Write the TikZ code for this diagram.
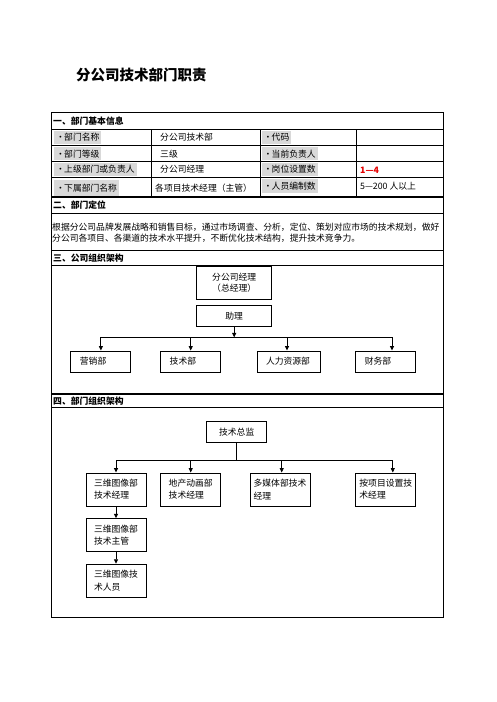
\documentclass[tikz,border=0pt]{standalone}
\usepackage{fontspec}
\setmainfont{Noto Sans CJK SC}
\usetikzlibrary{arrows.meta,positioning,calc}

\newcommand{\dotmark}{\makebox[8pt][l]{•}}

\begin{document}
\begin{tikzpicture}[
    x=1pt, y=-1pt,
    font=\fontsize{8.8}{11.5}\selectfont,
    >={Triangle[length=4.5pt,width=4pt]},
    rule/.style={line width=0.9pt},
    thickrule/.style={line width=1.8pt},
    head/.style={anchor=west, inner sep=0pt, font=\fontsize{8.8}{11}\selectfont\bfseries},
    tag/.style={anchor=west, fill=black!15, inner xsep=2pt, inner ysep=0pt, minimum height=13.5pt},
    cell/.style={anchor=west, inner sep=0pt},
    orgbox/.style={draw, line width=0.9pt, minimum width=60pt, minimum height=21pt, align=center},
    deptbox/.style={draw, line width=0.9pt, text width=42pt, inner xsep=9pt, minimum height=21pt, align=left},
    jobbox/.style={draw, line width=0.9pt, minimum width=60pt, minimum height=33pt, align=left, font=\fontsize{8.8}{12.2}\selectfont},
    link/.style={line width=0.9pt},
    linkarrow/.style={->, line width=0.9pt}
  ]
  \useasboundingbox (0,0) rectangle (496,702);

  % Title
  \node[anchor=west, inner sep=0pt, font=\fontsize{14.5}{16}\selectfont\bfseries] (title) at (76,74.5) {分公司技术部门职责};

  % Table frame and rules
  \draw[rule] (51,112.7) rectangle (443.3,617.3);
  \foreach \y in {129.3,145.7,161.7,177.3,213.3,250.7,265.7,407.3}
    \draw[rule] (51,\y) -- (443.3,\y);
  \foreach \y in {196.7,394}
    \draw[thickrule] (51,\y) -- (443.3,\y);
  \foreach \x in {151.7,260.7,356}
    \draw[rule] (\x,129.3) -- (\x,196.7);

  % Section headers
  \node[head] (h1) at (53,121) {一、部门基本信息};
  \node[head] (h2) at (53,205) {二、部门定位};
  \node[head] (h3) at (53,258.2) {三、公司组织架构};
  \node[head] (h4) at (53,400.7) {四、部门组织架构};

  % Basic information
  \node[tag] (k1) at (54,137.5) {\dotmark 部门名称};
  \node[tag] (k2) at (54,153.7) {\dotmark 部门等级};
  \node[tag] (k3) at (54,169.5) {\dotmark 上级部门或负责人};
  \node[tag, minimum height=16pt] (k4) at (54,188) {\dotmark 下属部门名称};
  \node[cell] (v1) at (160,137.5) {分公司技术部};
  \node[cell] (v2) at (160,153.7) {三级};
  \node[cell] (v3) at (160,169.5) {分公司经理};
  \node[cell] (v4) at (155,188.5) {各项目技术经理（主管）};
  \node[tag] (k5) at (261.5,137.5) {\dotmark 代码};
  \node[tag] (k6) at (261.5,153.7) {\dotmark 当前负责人};
  \node[tag] (k7) at (261.5,169.5) {\dotmark 岗位设置数};
  \node[tag] (k8) at (261.5,186) {\dotmark 人员编制数};
  \node[cell, text=red!90!black, font=\fontsize{8.8}{11}\selectfont\bfseries] (v7) at (360,170.5) {1—4};
  \node[cell] (v8) at (360,186) {5—200 人以上};

  % Department position
  \node[cell, align=left] (aim) at (52,232.5) {根据分公司品牌发展战略和销售目标，通过市场调查、分析，定位、策划对应市场的技术规划，做好\\分公司各项目、各渠道的技术水平提升，不断优化技术结构，提升技术竞争力。};

  % Company structure
  \node[orgbox, minimum width=75pt, minimum height=33pt, align=left] (gm) at (234.2,282.6) {分公司经理\\（总经理）};
  \node[orgbox, minimum width=75pt] (asst) at (234.2,316) {助理};
  \node[deptbox] (sales) at (100.9,361.5) {营销部};
  \node[deptbox] (tech) at (190.7,361.5) {技术部};
  \node[deptbox, text width=45pt] (hr) at (288.5,361.5) {人力资源部};
  \node[deptbox] (fin) at (385.8,361.5) {财务部};

  \coordinate (hub3) at ($(asst.south)+(0,10.5)$);
  \draw[linkarrow] (asst.south) -- (hub3);
  \draw[link] (sales.north |- hub3) -- ($(fin.north |- hub3)+(6.2,0)$);
  \foreach \d/\dx in {sales/0,tech/0,hr/-1.5,fin/6.2}
    \draw[linkarrow] ($(\d.north |- hub3)+(\dx,0)$) -- ($(\d.north)+(\dx,0)$);

  % Department structure
  \node[orgbox] (cto) at (236.7,432) {技术总监};
  \node[jobbox] (m3d) at (116,489.5) {三维图像部\\技术经理};
  \node[jobbox] (mest) at (190.7,489.5) {地产动画部\\技术经理};
  \node[jobbox] (mmedia) at (280,489.5) {多媒体部技术\\经理};
  \node[jobbox] (mproj) at (385.8,489.5) {按项目设置技\\术经理};
  \node[jobbox] (s3d) at (116,535.2) {三维图像部\\技术主管};
  \node[jobbox] (w3d) at (116,580.7) {三维图像技\\术人员};

  \coordinate (hub4) at ($(cto.south)+(0,17.7)$);
  \draw[link] (cto.south) -- (hub4);
  \draw[link] (m3d.north |- hub4) -- ($(mproj.north |- hub4)+(7,0)$);
  \foreach \d/\dx in {m3d/0,mest/0,mmedia/1.7,mproj/7}
    \draw[linkarrow] ($(\d.north |- hub4)+(\dx,0)$) -- ($(\d.north)+(\dx,0)$);
  \draw[linkarrow] (m3d.south) -- (s3d.north);
  \draw[linkarrow] (s3d.south) -- (w3d.north);

\end{tikzpicture}
\end{document}
